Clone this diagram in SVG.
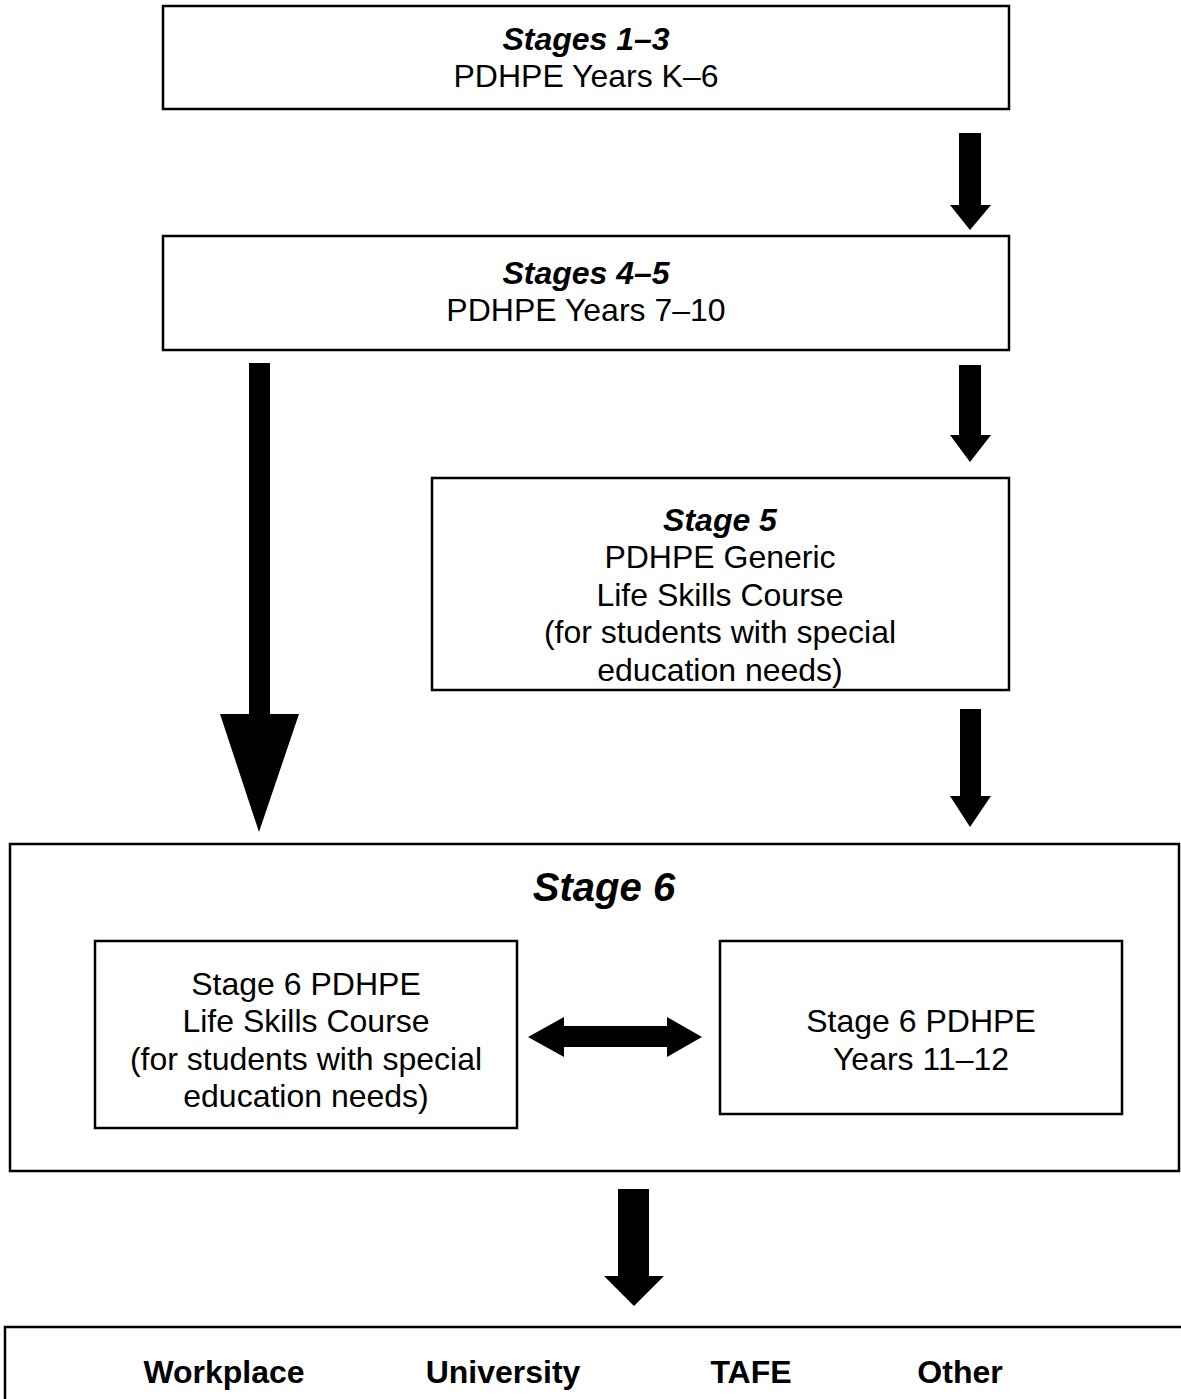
<svg xmlns="http://www.w3.org/2000/svg" width="1181" height="1399" viewBox="0 0 1181 1399">
<style>
.box{fill:#fff;stroke:#000;stroke-width:2.5}
.t{font-family:"Liberation Sans",Arial,sans-serif;font-size:32px;text-anchor:middle;fill:#000}
.bi{font-weight:bold;font-style:italic}
.b{font-weight:bold}
.arr{fill:#000}
</style>
<rect width="1181" height="1399" fill="#fff"/>
<g id="node-stages13">
<rect class="box" x="163" y="6" width="846" height="103"/>
<text class="t bi" x="586" y="50">Stages 1–3</text>
<text class="t" x="586" y="87">PDHPE Years K–6</text>
</g>
<g id="node-stages45">
<rect class="box" x="163" y="236" width="846" height="114"/>
<text class="t bi" x="586" y="284">Stages 4–5</text>
<text class="t" x="586" y="321">PDHPE Years 7–10</text>
</g>
<g id="node-stage5">
<rect class="box" x="432" y="478" width="577" height="212"/>
<text class="t bi" x="720" y="531">Stage 5</text>
<text class="t" x="720" y="568">PDHPE Generic</text>
<text class="t" x="720" y="606">Life Skills Course</text>
<text class="t" x="720" y="643">(for students with special</text>
<text class="t" x="720" y="681">education needs)</text>
</g>
<g id="node-stage6">
<rect class="box" x="10" y="844" width="1169" height="327"/>
<text class="t bi" x="604" y="901" style="font-size:40px">Stage 6</text>
</g>
<g id="node-lifeskills6">
<rect class="box" x="95" y="941" width="422" height="187"/>
<text class="t" x="306" y="995">Stage 6 PDHPE</text>
<text class="t" x="306" y="1032">Life Skills Course</text>
<text class="t" x="306" y="1070">(for students with special</text>
<text class="t" x="306" y="1107">education needs)</text>
</g>
<g id="node-years1112">
<rect class="box" x="720" y="941" width="402" height="173"/>
<text class="t" x="921" y="1032">Stage 6 PDHPE</text>
<text class="t" x="921" y="1070">Years 11–12</text>
</g>
<g id="node-destinations">
<rect class="box" x="5" y="1327" width="1190" height="100"/>
<text class="t b" x="224" y="1383">Workplace</text>
<text class="t b" x="503" y="1383">University</text>
<text class="t b" x="751" y="1383">TAFE</text>
<text class="t b" x="960" y="1383">Other</text>
</g>
<g id="connectors">
<polygon class="arr" points="959,133 981,133 981,205 991,205 970,230 950,205 959,205"/>
<polygon class="arr" points="249,363 270,363 270,714 299,714 259,832 220,714 249,714"/>
<polygon class="arr" points="959,365 981,365 981,435 991,435 970,462 950,435 959,435"/>
<polygon class="arr" points="960,709 981,709 981,796 991,796 970,827 950,796 960,796"/>
<polygon class="arr" points="528,1037 564,1017 564,1026 667,1026 667,1017 702,1037 667,1057 667,1047 564,1047 564,1057"/>
<polygon class="arr" points="618,1189 649,1189 649,1276 664,1276 634,1306 604,1276 618,1276"/>
</g>
</svg>
